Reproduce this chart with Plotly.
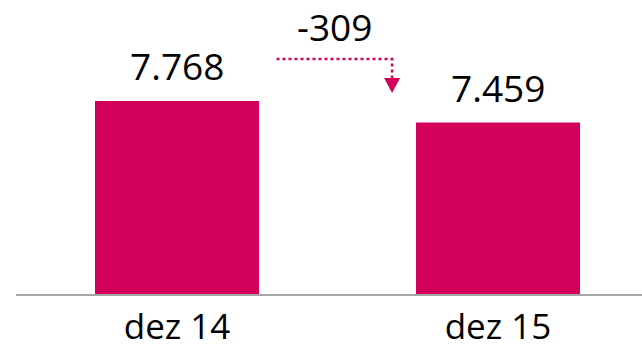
import plotly.graph_objects as go

# Headcount at year end
categories = ["dez 14", "dez 15"]
values = [7768, 7459]

BAR_COLOR = "#D2005A"
FONT = "Open Sans"
AXIS_MIN, AXIS_MAX = 5000, 9216

delta = values[1] - values[0]

fig = go.Figure()
fig.add_trace(go.Bar(
    x=list(range(len(categories))),
    y=values,
    width=0.511,
    marker=dict(color=BAR_COLOR, line=dict(width=0)),
    hoverinfo="skip",
))

# dotted connector from the first bar toward the second
arrow_y = values[0] + 602
arrow_x0, arrow_x1 = 0.31, 0.67
tip_y = values[0] + 115
fig.add_trace(go.Scatter(
    x=[arrow_x0, arrow_x1, arrow_x1],
    y=[arrow_y, arrow_y, tip_y + 200],
    mode="lines",
    line=dict(color=BAR_COLOR, width=2.5, dash="dot"),
    hoverinfo="skip",
))
# arrow head
fig.add_shape(
    type="path",
    xref="x", yref="y",
    xsizemode="pixel", ysizemode="pixel",
    xanchor=arrow_x1, yanchor=tip_y,
    path="M-8,15 L8,15 L0,0 Z",
    fillcolor=BAR_COLOR,
    line=dict(width=0),
)

annotations = []
for i, v in enumerate(values):
    annotations.append(dict(
        x=i, y=v, xref="x", yref="y",
        text=f"{v:,}".replace(",", "."),
        showarrow=False, yanchor="bottom", yshift=8,
        font=dict(family=FONT, size=37, color="#000000"),
    ))
annotations.append(dict(
    x=(arrow_x0 + arrow_x1) / 2, y=arrow_y, xref="x", yref="y",
    text=f"{delta:,}".replace(",", "."),
    showarrow=False, yanchor="bottom", yshift=5,
    font=dict(family=FONT, size=37, color="#000000"),
))

fig.update_layout(
    width=642, height=352,
    margin=dict(l=16, r=0, t=0, b=58, autoexpand=False),
    paper_bgcolor="white", plot_bgcolor="white",
    showlegend=False,
    annotations=annotations,
    xaxis=dict(
        range=[-0.5016, 1.4486],
        tickmode="array",
        tickvals=list(range(len(categories))),
        ticktext=categories,
        tickfont=dict(family=FONT, size=35, color="#000000"),
        ticklabelstandoff=1,
        automargin=False,
        showgrid=False, zeroline=False,
        showline=True, linecolor="#A6A6A6", linewidth=2,
        ticks="",
    ),
    yaxis=dict(
        range=[AXIS_MIN, AXIS_MAX],
        visible=False,
        showgrid=False, zeroline=False,
    ),
)

fig.write_html("out.html")
